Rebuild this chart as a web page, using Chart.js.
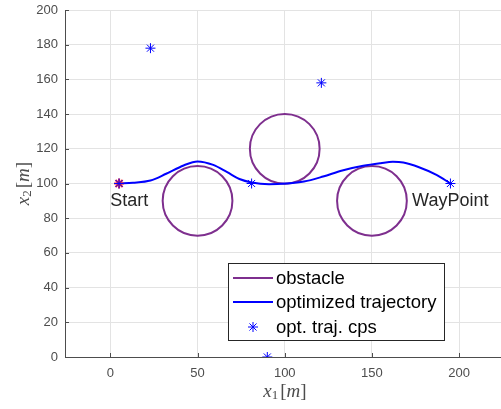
<!DOCTYPE html>
<html>
<head>
<meta charset="utf-8">
<script src="https://cdn.jsdelivr.net/npm/chart.js@4.4.1/dist/chart.umd.min.js"></script>
<style>
  html, body { margin: 0; padding: 0; background: #fff; overflow: hidden; }
  #wrap { width: 508px; height: 409px; }
</style>
</head>
<body>
<div id="wrap"><canvas id="plot"></canvas></div>
<script>
// tick labels
const xTicks = [0, 50, 100, 150, 200];
const yTicks = [0, 20, 40, 60, 80, 100, 120, 140, 160, 180, 200];

// obstacles: circle centres and radius [m]
const obstacleX = [50, 100, 150];
const obstacleY = [90, 120, 90];
const obstacleR = 20;

// optimized trajectory
const trajX = [5, 13, 23, 32, 42, 50, 59, 67, 74, 81, 91, 101, 111, 122, 133, 145, 155, 162, 168, 177, 187, 195];
const trajY = [100, 100.4, 101.7, 105.6, 110.4, 112.7, 110.7, 106.5, 102.6, 100.6, 99.6, 100, 101.1, 104, 107.5, 110.2, 111.7, 112.5, 112.1, 109.4, 105, 100];

// optimized trajectory control points
const cpsX = [5, 23, 81, 90, 121, 195];
const cpsY = [100, 178, 100, 0, 158, 100];

// start marker
const startX = [5];
const startY = [100];

// text notes
const noteText = ['Start', 'WayPoint'];
const noteX = [0, 173];
const noteY = [90, 90];

const purple = '#7E2F8E';
const blue = '#0000FF';
const axisGray = '#4d4d4d';

const toPts = (xs, ys) => xs.map((x, i) => ({ x: x, y: ys[i] }));

// radius of an obstacle in pixels, through the x scale
function obstaclePx(ctx) {
    const s = ctx.chart.scales.x;
    return Math.abs(s.getPixelForValue(obstacleR) - s.getPixelForValue(0));
}

// inward tick marks, axis titles, notes and legend
const extras = {
    id: 'extras',
    afterDraw(chart) {
        const ctx = chart.ctx;
        const xs = chart.scales.x, ys = chart.scales.y;
        const area = chart.chartArea;
        ctx.save();

        // tick marks (MATLAB style, pointing in)
        ctx.strokeStyle = axisGray;
        ctx.lineWidth = 1;
        ctx.beginPath();
        xTicks.forEach(v => {
            const px = Math.round(xs.getPixelForValue(v)) + 0.5;
            ctx.moveTo(px, area.bottom);
            ctx.lineTo(px, area.bottom - 4);
        });
        yTicks.forEach(v => {
            const py = Math.round(ys.getPixelForValue(v)) + 0.5;
            ctx.moveTo(area.left, py);
            ctx.lineTo(area.left + 4, py);
        });
        ctx.stroke();

        // notes
        ctx.fillStyle = '#262626';
        ctx.font = '18px "Liberation Sans", Arial, sans-serif';
        ctx.textAlign = 'left';
        ctx.textBaseline = 'middle';
        noteText.forEach((t, i) => {
            ctx.fillText(t, xs.getPixelForValue(noteX[i]), ys.getPixelForValue(noteY[i]));
        });

        // axis titles: x_1[m], x_2[m]
        function mathLabel(sub, cx, cy, rot) {
            const parts = [
                { t: 'x', f: 'italic 19px "Liberation Serif", "DejaVu Serif", serif', dy: 0 },
                { t: sub, f: '13px "Liberation Serif", "DejaVu Serif", serif', dy: 4 },
                { t: '[', f: '19px "Liberation Serif", "DejaVu Serif", serif', dy: 0 },
                { t: 'm', f: 'italic 19px "Liberation Serif", "DejaVu Serif", serif', dy: 0 },
                { t: ']', f: '19px "Liberation Serif", "DejaVu Serif", serif', dy: 0 }
            ];
            let w = 0;
            parts.forEach(p => { ctx.font = p.f; p.w = ctx.measureText(p.t).width + (p.t === sub ? 2 : 0); w += p.w; });
            ctx.save();
            ctx.translate(cx, cy);
            ctx.rotate(rot);
            ctx.fillStyle = axisGray;
            ctx.textAlign = 'left';
            ctx.textBaseline = 'middle';
            let x = -w / 2;
            parts.forEach(p => {
                ctx.font = p.f;
                ctx.fillText(p.t, x, p.dy);
                x += p.w;
            });
            ctx.restore();
        }
        mathLabel('1', 285, 392, 0);
        mathLabel('2', 24, (area.top + area.bottom) / 2, -Math.PI / 2);

        // legend box
        const lx = 228.5, ly = 263.5, lw = 216, lh = 77;
        ctx.fillStyle = '#fff';
        ctx.fillRect(lx, ly, lw, lh);
        ctx.strokeStyle = '#262626';
        ctx.lineWidth = 1;
        ctx.strokeRect(lx, ly, lw, lh);

        const rows = [278, 302, 327];
        const ds = chart.data.datasets;
        const items = [ds[3], ds[2], ds[0]];
        ctx.font = '18.5px "Liberation Sans", Arial, sans-serif';
        ctx.textBaseline = 'middle';
        items.forEach((d, i) => {
            const y = rows[i];
            if (d.showLine || d.legendLine) {
                ctx.strokeStyle = d.borderColor;
                ctx.lineWidth = 2;
                ctx.beginPath();
                ctx.moveTo(233, y);
                ctx.lineTo(273, y);
                ctx.stroke();
            } else {
                // asterisk sample
                ctx.strokeStyle = d.borderColor;
                ctx.lineWidth = 1;
                const r = 5, cx = 253;
                ctx.beginPath();
                ctx.moveTo(cx - r, y); ctx.lineTo(cx + r, y);
                ctx.moveTo(cx, y - r); ctx.lineTo(cx, y + r);
                const q = r * Math.SQRT1_2;
                ctx.moveTo(cx - q, y - q); ctx.lineTo(cx + q, y + q);
                ctx.moveTo(cx - q, y + q); ctx.lineTo(cx + q, y - q);
                ctx.stroke();
            }
            ctx.fillStyle = '#000';
            ctx.fillText(d.label, 276, y + 1);
        });
        ctx.restore();
    }
};

new Chart(document.getElementById('plot'), {
    type: 'scatter',
    data: {
        datasets: [
            {
                label: 'opt. traj. cps',
                data: toPts(cpsX, cpsY),
                pointStyle: 'star',
                pointRadius: 5,
                borderColor: blue,
                backgroundColor: blue,
                borderWidth: 1
            },
            {
                label: 'start',
                data: toPts(startX, startY),
                pointStyle: 'star',
                pointRadius: 5,
                borderColor: '#ff3030',
                borderWidth: 2
            },
            {
                label: 'optimized trajectory',
                data: toPts(trajX, trajY),
                showLine: true,
                borderColor: blue,
                borderWidth: 2,
                pointRadius: 0,
                cubicInterpolationMode: 'monotone'
            },
            {
                label: 'obstacle',
                legendLine: true,
                data: toPts(obstacleX, obstacleY),
                pointStyle: 'circle',
                pointRadius: obstaclePx,
                borderColor: purple,
                backgroundColor: 'rgba(0,0,0,0)',
                borderWidth: 2
            }
        ]
    },
    options: {
        responsive: true,
        maintainAspectRatio: false,
        animation: false,
        events: [],
        layout: { padding: { top: 10, left: 0, right: 0, bottom: 0 } },
        plugins: {
            legend: { display: false },
            tooltip: { enabled: false }
        },
        scales: {
            x: {
                type: 'linear',
                min: -26,
                max: 224,
                afterBuildTicks: s => { s.ticks = xTicks.map(v => ({ value: v })); },
                afterFit: s => { s.height = 52; s.paddingLeft = 0; s.paddingRight = 0; },
                grid: { color: '#e3e3e3', drawTicks: false },
                border: { color: axisGray, width: 1 },
                ticks: {
                    padding: 9,
                    color: axisGray,
                    font: { family: '"Liberation Sans", Arial, sans-serif', size: 13 }
                }
            },
            y: {
                type: 'linear',
                min: 0,
                max: 200,
                afterBuildTicks: s => { s.ticks = yTicks.map(v => ({ value: v })); },
                afterFit: s => { s.width = 65; s.paddingTop = 0; s.paddingBottom = 0; },
                grid: { color: '#e3e3e3', drawTicks: false },
                border: { color: axisGray, width: 1 },
                ticks: {
                    padding: 7,
                    color: axisGray,
                    font: { family: '"Liberation Sans", Arial, sans-serif', size: 13 }
                }
            }
        }
    },
    plugins: [extras]
});
</script>
</body>
</html>
